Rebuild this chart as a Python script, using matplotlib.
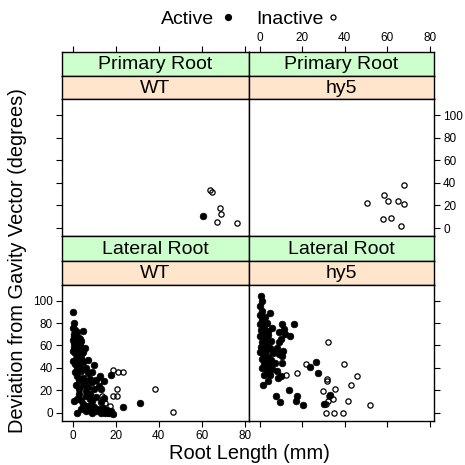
import matplotlib
matplotlib.use('Agg')
import matplotlib.pyplot as plt
from matplotlib.lines import Line2D

plt.rcParams['font.family'] = ['Liberation Sans', 'DejaVu Sans']

# ---------------- data ----------------
organs = ["Primary Root", "Lateral Root"]
genotypes = ["WT", "hy5"]
x_ticks = [0, 20, 40, 60, 80]
y_ticks = [0, 20, 40, 60, 80, 100]

pr_wt_act_len = [60.5]
pr_wt_act_dev = [10.3]
pr_wt_ina_len = [64.0, 64.6, 68.5, 69.0, 67.2, 76.4]
pr_wt_ina_dev = [34.0, 31.6, 17.4, 12.1, 5.3, 4.1]

pr_hy5_act_len = []
pr_hy5_act_dev = []
pr_hy5_ina_len = [50.5, 58.5, 60.5, 65.0, 67.7, 67.8, 57.9, 61.9, 66.4]
pr_hy5_ina_dev = [22.5, 29.6, 23.6, 24.2, 21.0, 37.8, 8.0, 9.1, 1.8]

lr_wt_act_len = [0.2, 0.4, 0.3, 1.0, 4.8, 1.5, 0.5, 2.0, 0.0, 1.0, 2.0, 3.0, 4.0, 0.5, 2.5,
                 0.0, 1.0, 2.0, 3.0, 5.0, 4.0, 1.5, 5.5, 0.0, 1.0, 2.0, 3.0, 5.0, 7.0, 10.0,
                 6.0, 4.0, 1.0, 2.0, 4.0, 5.0, 7.0, 8.0, 9.0, 12.7, 11.0, 3.0, 3.0, 5.0, 7.0,
                 9.0, 10.0, 12.0, 13.2, 14.4, 6.0, 0.7, 2.0, 4.0, 6.0, 8.0, 9.0, 11.0, 13.0,
                 14.7, 3.0, 2.0, 3.8, 6.0, 8.0, 9.0, 10.0, 11.0, 12.0, 13.0, 14.0, 15.0, 16.0,
                 17.0, 18.0, 18.6, 7.0, 5.0, 23.5, 31.2, 18.0, 1.0, 3.0, 2.0, 6.0, 8.0, 1.5,
                 0.5, 4.5, 3.5, 1.0, 2.5, 0.5, 3.5, 1.5]
lr_wt_act_dev = [90, 80, 76, 74, 72.5, 70, 68, 72, 65, 63, 61, 67, 64, 59, 58,
                 55, 53, 56, 51, 54, 49, 48, 58, 46, 43, 47, 41, 45, 47, 42.5,
                 40, 39, 36, 33, 37, 31, 35, 30, 36, 33, 29, 29, 21, 25, 23,
                 27, 21, 24, 21, 28, 19, 10, 12.5, 11.5, 14.5, 17, 10.5, 14, 9.5,
                 13, 16.5, -0.5, 3, 1, 2, 0, 5, 1, 3, 0, 4, 0, 2,
                 0, 1, -1, 6, 8, 5, 8.3, 34, 60, 45, 39, 28, 12, 25,
                 70, 53, 60, 57, 50, 62, 66, 44]
lr_wt_ina_len = [18.9, 20.9, 23.2, 20.4, 18.9, 20.4, 38.2, 46.5, 12.3, 13.4, 15.0, 17.3, 16.3]
lr_wt_ina_dev = [38.2, 36.2, 36.2, 21.0, 14.5, 14.5, 21.5, 0.6, 27.0, 14.5, 8.5, 5.6, -0.6]

lr_hy5_act_len = [0.5, 0.9, 0.3, 1.2, 0.0, 4.7, 1.0, 2.5, 0.2, 2.0, 3.5, 0.5, 1.8, 4.0, 6.0,
                  0.0, 2.5, 1.2, 4.0, 5.5, 0.5, 2.0, 3.5, 0.0, 1.5, 3.0, 5.0, 6.5, 4.0, 7.5,
                  9.0, 1.0, 3.0, 5.5, 2.0, 4.5, 7.0, 3.5, 6.0, 8.0, 16.0, 10.6, 9.0, 14.2, 9.0,
                  10.6, 10.3, 26.7, 23.9, 27.5, 8.7, 4.1, 1.5, 13.9, 7.8, 9.7, 17.6, 17.2, 20.6,
                  33.2, 30.4, 10.2, 11.5, 12.0, 10.0, 8.0, 11.0, 2.0, 5.0, 1.0]
lr_hy5_act_dev = [104.5, 99.5, 95, 91, 87, 89, 83, 85, 79, 77, 80, 74, 71, 73, 76,
                  68, 66, 63, 69, 64, 59, 57, 60, 54, 52, 55, 58, 53, 50, 56,
                  52, 48, 46, 47, 43, 42, 44, 38, 39, 37, 79, 79, 71.7, 68, 62.8,
                  50.4, 44.5, 45.5, 40.7, 35.7, 31.2, 28, 24.5, 20, 14.8, 9.5, 14.8, 10.3, 6.5,
                  15.8, 7.8, 32.7, 75, 70, 66, 58, 55, 34, 34, 40]
lr_hy5_ina_len = [32.1, 39.7, 21.9, 17.6, 12.6, 31.7, 31.9, 45.9, 42.8, 35.4, 29.9, 34.7,
                  32.8, 32.3, 41.4, 52.1, 31.2, 35.1, 39.2, 31.3]
lr_hy5_ina_dev = [63.5, 43.8, 43.0, 35.7, 33.6, 30.4, 28.6, 32.3, 24.5, 21.2, 19.0, 12.5,
                  14.4, 10.3, 10.3, 6.5, 0.0, 0.0, 0.0, 8.0]

panels = {
    (0, 0): (pr_wt_act_len, pr_wt_act_dev, pr_wt_ina_len, pr_wt_ina_dev),
    (0, 1): (pr_hy5_act_len, pr_hy5_act_dev, pr_hy5_ina_len, pr_hy5_ina_dev),
    (1, 0): (lr_wt_act_len, lr_wt_act_dev, lr_wt_ina_len, lr_wt_ina_dev),
    (1, 1): (lr_hy5_act_len, lr_hy5_act_dev, lr_hy5_ina_len, lr_hy5_ina_dev),
}

# ---------------- layout ----------------
W = H = 465
fig = plt.figure(figsize=(4.65, 4.65), dpi=100)
fig.patch.set_facecolor('white')

XLIM = (-5, 82)
YLIM = (-7.5, 114)
GREEN = '#CCFFCC'
ORANGE = '#FFE5CC'
FS = 14
LFS = 14.4
TFS = 8.5


def ax_px(x0, y0, x1, y1):
    return fig.add_axes([x0 / W, 1 - y1 / H, (x1 - x0) / W, (y1 - y0) / H])


cols = [(62, 249), (249, 434)]
rows = [(52, 76, 99.5, 236.5), (236.5, 260.5, 285, 421)]

for r in range(2):
    s1, s2, p0, p1 = rows[r]
    for c in range(2):
        x0, x1 = cols[c]
        # strips
        sa = ax_px(x0, s1, x1, s2)
        sb = ax_px(x0, s2, x1, p0)
        for s, col, txt in ((sa, GREEN, organs[r]), (sb, ORANGE, genotypes[c])):
            s.set_facecolor(col)
            s.set_xlim(XLIM)
            s.set_ylim(0, 1)
            s.set_yticks([])
            s.set_xticks([])
            for sp in s.spines.values():
                sp.set_linewidth(1.0)
            s.text(0.5, 0.46, txt, transform=s.transAxes, ha='center', va='center',
                   fontsize=FS)
        if r == 0:
            sa.xaxis.tick_top()
            sa.set_xticks(x_ticks)
            sa.tick_params(axis='x', direction='out', length=4, width=0.8, pad=1.5,
                           labelsize=TFS, labeltop=(c == 1))
        # panel
        ax = ax_px(x0, p0, x1, p1)
        ax.set_xlim(XLIM)
        ax.set_ylim(YLIM)
        for sp in ax.spines.values():
            sp.set_linewidth(1.0)
        ax_x, ax_y, in_x, in_y = panels[(r, c)]
        ax.plot(ax_x, ax_y, linestyle='none', marker='o', markersize=4.8,
                markerfacecolor='black', markeredgecolor='black', markeredgewidth=0.5)
        ax.plot(in_x, in_y, linestyle='none', marker='o', markersize=3.8,
                markerfacecolor='none', markeredgecolor='black', markeredgewidth=0.9)
        ax.set_yticks(y_ticks)
        if r == 1:
            ax.set_xticks(x_ticks)
            ax.tick_params(axis='x', direction='out', length=4, width=0.8, pad=2.5,
                           labelsize=TFS, labelbottom=(c == 0))
        else:
            ax.set_xticks([])
        if c == 0:
            ax.tick_params(axis='y', direction='out', length=4, width=0.8, pad=2.5,
                           labelsize=TFS, left=True, labelleft=(r == 1),
                           right=False, labelright=False)
        else:
            ax.tick_params(axis='y', direction='out', length=4, width=0.8, pad=2.5,
                           labelsize=TFS, left=False, labelleft=False,
                           right=True, labelright=(r == 0))

# ---------------- legend & labels ----------------
fig.text(214 / W, 1 - 19.5 / H, 'Active', ha='right', va='center', fontsize=FS)
fig.add_artist(Line2D([227.7 / W], [1 - 17.5 / H], transform=fig.transFigure,
                      marker='o', markersize=4.2, markerfacecolor='black',
                      markeredgecolor='black', linestyle='none'))
fig.text(256.7 / W, 1 - 19.5 / H, 'Inactive', ha='left', va='center', fontsize=FS)
fig.add_artist(Line2D([333.3 / W], [1 - 17.5 / H], transform=fig.transFigure,
                      marker='o', markersize=3.6, markerfacecolor='none',
                      markeredgecolor='black', markeredgewidth=0.9, linestyle='none'))

fig.text(18 / W, 1 - 261 / H, 'Deviation from Gavity Vector (degrees)', rotation=90,
         ha='center', va='center', fontsize=LFS)
fig.text(249 / W, 1 - 453 / H, 'Root Length (mm)', ha='center', va='center', fontsize=LFS)

fig.savefig('out.png', dpi=100, facecolor='white')
